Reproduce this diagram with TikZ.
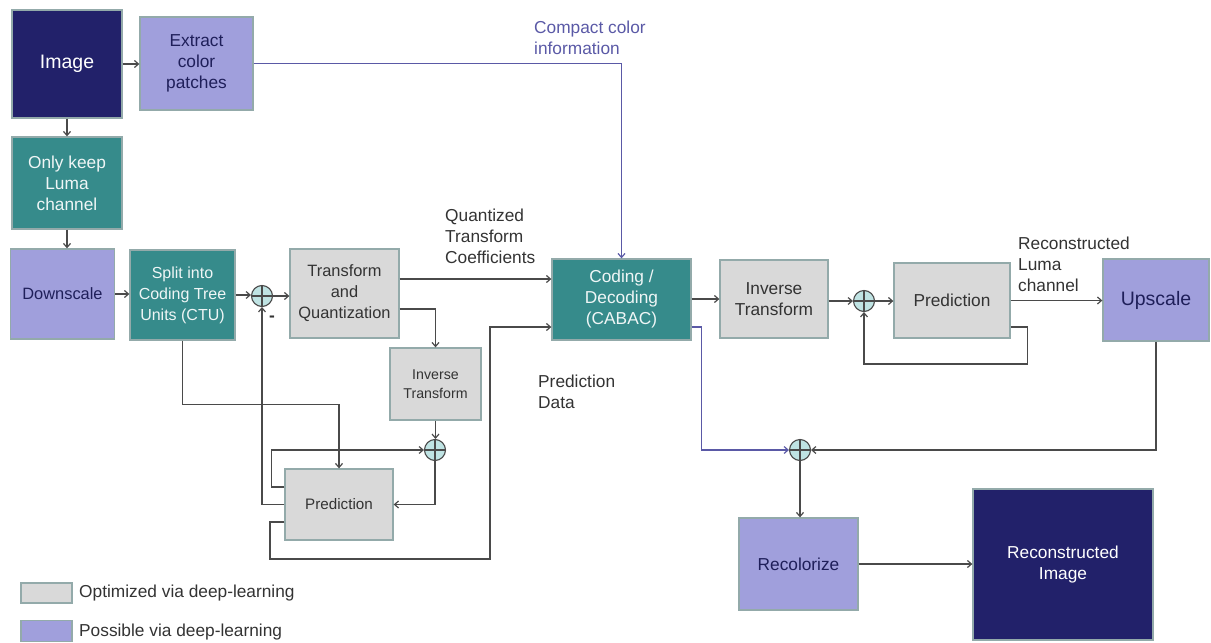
\documentclass[tikz,border=0pt]{standalone}
\usepackage{fontspec}
\setmainfont{Liberation Sans}
\usetikzlibrary{arrows.meta,calc}
\definecolor{navy}{HTML}{22216A}
\definecolor{purp}{HTML}{A09FDC}
\definecolor{tealf}{HTML}{368B8B}
\definecolor{grayf}{HTML}{D9D9D9}
\definecolor{bord}{HTML}{93AAAA}
\definecolor{navytxt}{HTML}{1F1F5A}
\definecolor{txtg}{HTML}{333333}
\definecolor{linec}{HTML}{4A4A4A}
\definecolor{purpline}{HTML}{5A59A6}
\definecolor{sumf}{HTML}{BFE3E3}
\newcommand{\fsz}{\fontsize{17.3}{21}\selectfont}
\newcommand{\fmid}{\fontsize{16.4}{21}\selectfont}
\newcommand{\fbig}{\fontsize{19.5}{22}\selectfont}
\newcommand{\fsmall}{\fontsize{14.2}{19}\selectfont}
\tikzset{
  box/.style={draw=bord, line width=1.3pt, inner sep=1pt, align=center, font=\fsz},
  navyb/.style={box, fill=navy, text=white},
  purpb/.style={box, fill=purp, text=navytxt},
  tealb/.style={box, fill=tealf, text=white!92!tealf},
  grayb/.style={box, fill=grayf, text=txtg},
  conn/.style={draw=linec, line width=1.2pt, -{Straight Barb[length=4pt,width=7pt]}},
  pconn/.style={conn, draw=purpline},
  lbl/.style={font=\fsz, text=txtg, align=left, anchor=west, inner sep=0pt},
  sumj/.style={circle, draw=linec, line width=1.1pt, fill=sumf, minimum size=21pt, inner sep=0pt,
    path picture={\draw[linec, line width=1.1pt] (path picture bounding box.north) -- (path picture bounding box.south)
      (path picture bounding box.west) -- (path picture bounding box.east);}},
}
\begin{document}
\begin{tikzpicture}[x=1pt,y=-1pt]
\useasboundingbox (0,0) rectangle (1211,643);
% nodes
\node[navyb, minimum width=110pt, minimum height=108pt, font=\fbig] (img) at (67,64) {Image};
\node[purpb, minimum width=113pt, minimum height=93pt] (ext) at (196.5,63.5) {Extract\\color\\patches};
\node[tealb, minimum width=110pt, minimum height=92pt] (luma) at (67,183) {Only keep\\Luma\\channel};
\node[purpb, minimum width=104pt, minimum height=90pt, font=\fmid] (down) at (62.5,294) {Downscale};
\node[tealb, minimum width=105pt, minimum height=90pt, font=\fontsize{16}{21}\selectfont] (split) at (182.5,295) {Split into\\Coding Tree\\Units (CTU)};
\node[sumj] (s1) at (262,296) {};
\node[grayb, minimum width=109pt, minimum height=89pt, font=\fmid] (tq) at (344.5,293.5) {Transform\\and\\Quantization};
\node[grayb, minimum width=91pt, minimum height=72pt, font=\fsmall] (it1) at (435.5,384) {Inverse\\Transform};
\node[sumj] (s2) at (435,450) {};
\node[grayb, minimum width=108pt, minimum height=71pt, font=\fontsize{15.2}{19}\selectfont] (pr1) at (339,504.5) {Prediction};
\node[tealb, minimum width=139pt, minimum height=81pt] (cab) at (621.5,299.5) {Coding /\\Decoding\\(CABAC)};
\node[grayb, minimum width=108pt, minimum height=78pt] (it2) at (774,299) {Inverse\\Transform};
\node[sumj] (s3) at (864,301) {};
\node[grayb, minimum width=116pt, minimum height=75pt] (pr2) at (952,300.5) {Prediction};
\node[purpb, minimum width=106pt, minimum height=82pt, font=\fbig] (up) at (1156,300) {Upscale};
\node[sumj] (s4) at (800,450) {};
\node[purpb, minimum width=119pt, minimum height=92pt] (rec) at (798.5,564) {Recolorize};
\node[navyb, minimum width=180pt, minimum height=151pt] (rimg) at (1063,564.5) {Reconstructed\\Image};
% labels
\node[lbl, text=purpline] (lcc) at (534,37.5) {Compact color\\information};
\node[lbl] (lqt) at (445,236.5) {Quantized\\Transform\\Coefficients};
\node[lbl] (lpd) at (538,392) {Prediction\\Data};
\node[lbl] (lrl) at (1018,264) {Reconstructed\\Luma\\channel};
\node[font=\bfseries\fsz, text=txtg, inner sep=0pt] (minus) at (272,319) {-};
% legend
\node[box, fill=grayf, minimum width=51pt, minimum height=20pt] (lg1) at (46.5,593) {};
\node[lbl] (lg1t) at (79,593) {Optimized via deep-learning};
\node[box, fill=purp, minimum width=51pt, minimum height=21pt] (lg2) at (46.5,631) {};
\node[lbl] (lg2t) at (79,632) {Possible via deep-learning};
% connectors
\draw[conn] (img.east) -- (img.east -| ext.west);
\draw[pconn] (ext.east) -| (cab.north);
\draw[conn] (img.south) -- (img.south |- luma.north);
\draw[conn] (luma.south) -- (luma.south |- down.north);
\draw[conn] (down.east) -- (down.east -| split.west);
\draw[conn] (split.east) -- (split.east -| s1.west);
\draw[conn] (s1.east) -- (s1.east -| tq.west);
\coordinate (q1) at ([yshift=14.5pt]tq.east);
\draw[conn] (q1) -- (q1 -| cab.west);
\draw[conn] ([yshift=-15.5pt]tq.east) -| (it1.north);
\draw[conn] (it1.south) -- (it1.south |- s2.north);
\draw[conn] (split.south) -- ++(0,64) -| (pr1.north);
\draw[conn] ([yshift=17.5pt]pr1.west) -- ++(-13,0) |- (s2.west);
\draw[conn] (pr1.west) -| (s1.south);
\draw[conn] (s2.south) |- (pr1.east);
\coordinate (pda) at (270,559);
\coordinate (pdb) at (490,327);
\draw[conn] ([yshift=-17.5pt]pr1.west) -| (pda) -| (pdb) -- (pdb -| cab.west);
\draw[conn] (cab.east |- it2.west) -- (it2.west);
\draw[conn] (it2.east |- s3.west) -- (s3.west);
\draw[conn] (s3.east) -- (s3.east -| pr2.west);
\draw[conn] (pr2.east) -- (pr2.east -| up.west);
\draw[conn] ([yshift=-26.5pt]pr2.east) -- ++(17,0) -- ++(0,37) -| (s3.south);
\draw[pconn] ([yshift=-27.5pt]cab.east) -- ++(10,0) |- (s4.west);
\draw[conn] (up.south) |- (s4.east);
\draw[conn] (s4.south) -- (s4.south |- rec.north);
\draw[conn] (rec.east) -- (rec.east -| rimg.west);
\end{tikzpicture}
\end{document}
